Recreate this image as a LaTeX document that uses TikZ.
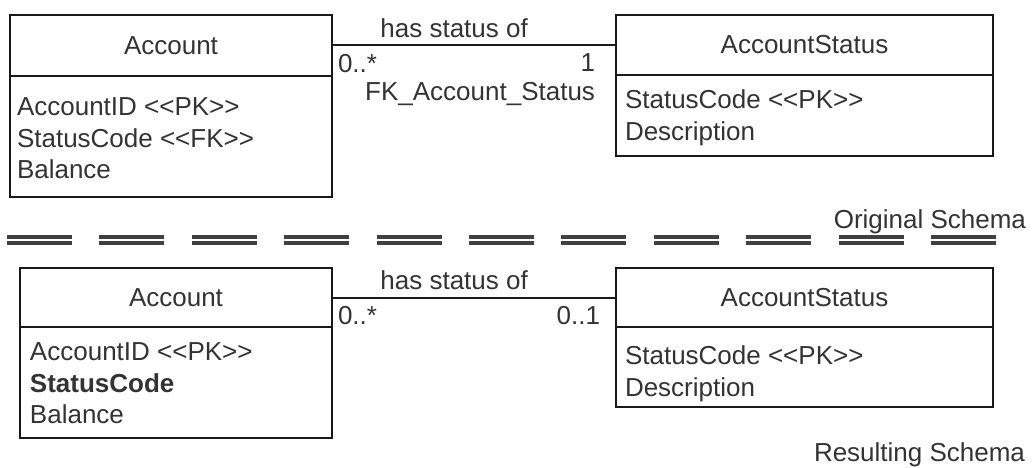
\documentclass[tikz,border=0pt]{standalone}
\usepackage{fontspec}
\setmainfont{Liberation Sans}[Ligatures=TeXOff]
\usepackage{tikz}
\usetikzlibrary{
	positioning,
	calc
}
\usepackage{xcolor}

\definecolor{inkgray}{gray}{0.2}
\definecolor{linegray}{gray}{0.1}

\begin{document}
\begin{tikzpicture}[
	x=1pt, y=-1pt,
	font=\fontsize{26}{31.7}\selectfont,
	every node/.style={text=inkgray, inner sep=0pt, outer sep=0pt},
	classhead/.style={draw=linegray, line width=2.6pt, anchor=north west},
	classbody/.style={draw=linegray, line width=2.6pt},
	attrs/.style={align=left},
	assoc/.style={draw=linegray, line width=2pt},
	separator/.style={draw=black!75, line width=4.8pt, double=white, double distance=1.3pt, dash pattern=on 65pt off 27.4pt}
	]
	
	\useasboundingbox (0,0) rectangle (1034,468);
	
	\node[classhead, minimum width=322pt, minimum height=61pt] (acc1head) at (10,15) {Account};
	\node[classbody, minimum width=322pt, minimum height=121pt, below=0pt of acc1head] (acc1body) {};
	\node[attrs, below right=21.5pt and 7pt of acc1body.north west] (acc1attr)
	{AccountID <<PK>>\\StatusCode <<FK>>\\Balance};
	
	\node[classhead, minimum width=377pt, minimum height=60pt] (stat1head) at (616,15) {AccountStatus};
	\node[classbody, minimum width=377pt, minimum height=81pt, below=0pt of stat1head] (stat1body) {};
	\node[attrs, below right=14.5pt and 9pt of stat1body.north west] (stat1attr)
	{StatusCode <<PK>>\\Description};
	
	\draw[assoc] (acc1head.east) -- node[pos=.43, anchor=south, yshift=8pt] (rel1) {has status of} (acc1head.east -| stat1head.west);
	\node[anchor=north west] (many1) at ([xshift=6pt, yshift=-8.5pt]acc1head.east) {0..*};
	\node[anchor=north east] (one1) at ([xshift=-21pt, yshift=-8.5pt]acc1head.east -| stat1head.west) {1};
	\node[below left=10.5pt and 0pt of one1.south east] (fk1) {FK\_Account\_Status};
	
	\draw[separator] (7,240) -- (996,240);
	\node[anchor=base east] (orig) at (1026,229) {Original Schema};
	
	\node[classhead, minimum width=312pt, minimum height=59pt] (acc2head) at (20,268) {Account};
	\node[classbody, minimum width=312pt, minimum height=111pt, below=0pt of acc2head] (acc2body) {};
	\node[attrs, below right=15.5pt and 10pt of acc2body.north west] (acc2attr)
	{AccountID <<PK>>\\\textbf{StatusCode}\\Balance};
	
	\node[classhead, minimum width=377pt, minimum height=59pt] (stat2head) at (616,268) {AccountStatus};
	\node[classbody, minimum width=377pt, minimum height=80pt, below=0pt of stat2head] (stat2body) {};
	\node[attrs, below right=18.5pt and 9pt of stat2body.north west] (stat2attr)
	{StatusCode <<PK>>\\Description};
	
	\draw[assoc] (acc2head.east) -- node[pos=.43, anchor=south, yshift=8pt] (rel2) {has status of} (acc2head.east -| stat2head.west);
	\node[anchor=north west] (many2) at ([xshift=6pt, yshift=-8.5pt]acc2head.east) {0..*};
	\node[anchor=north east] (opt2) at ([xshift=-16pt, yshift=-8.5pt]acc2head.east -| stat2head.west) {0..1};
	
	\node[anchor=base east] (result) at (1025,461) {Resulting Schema};
	
\end{tikzpicture}
\end{document}
